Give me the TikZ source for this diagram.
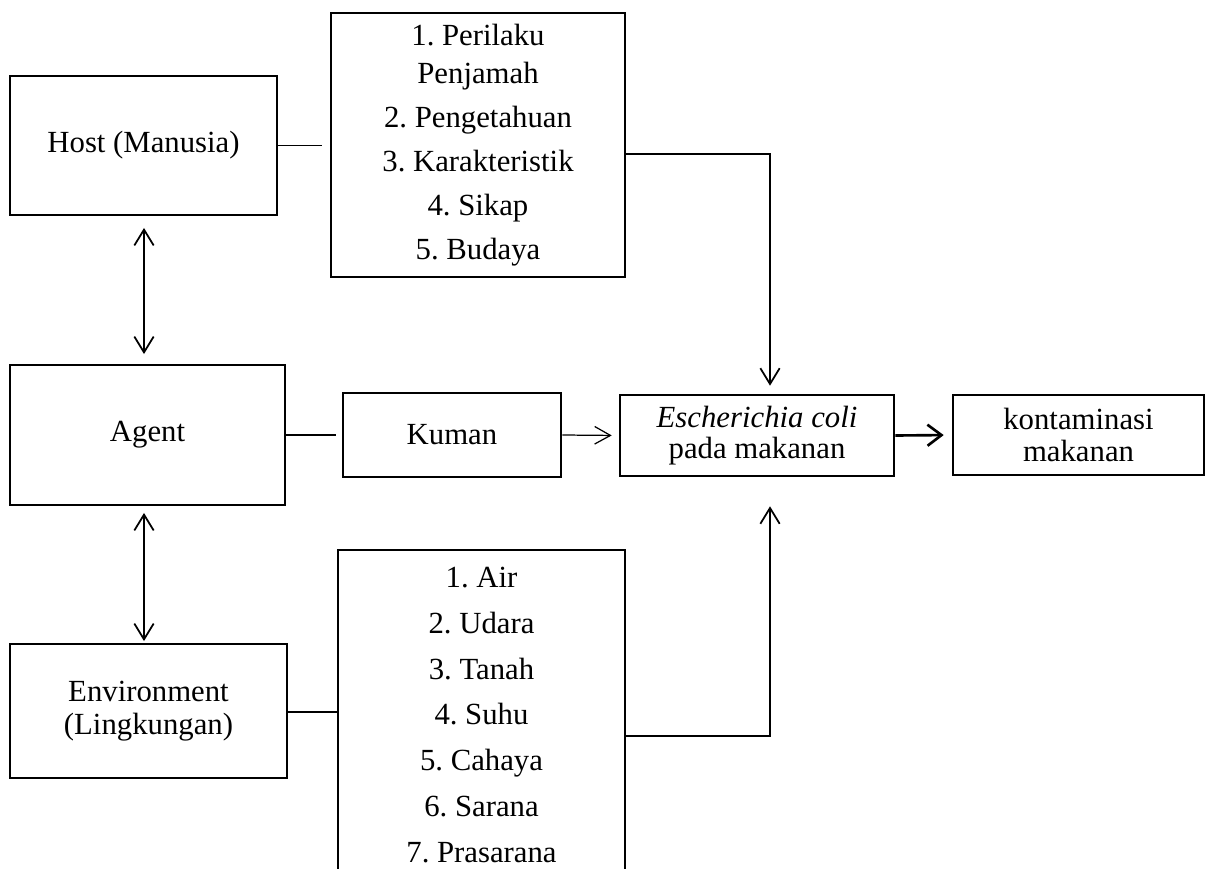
\documentclass[tikz,border=0pt]{standalone}
\usepackage{fontspec}
\setmainfont{Liberation Serif}
\usepackage{tikz}
\usetikzlibrary{arrows.meta}
\frenchspacing

\begin{document}
\begin{tikzpicture}[x=0.02cm, y=-0.02cm, font=\fontsize{17.5}{19}\selectfont]

    \useasboundingbox (0,0) rectangle (1209,868);

    % --- 1. Stile ---
    \tikzset{kasten/.style={draw, line width=1.1pt, inner sep=2pt, align=center},
             mittelkasten/.style={kasten, line width=1.5pt},
             liste/.style={kasten, line width=0.9pt, anchor=center},
             verbinder/.style={line width=1pt},
             pfeilspitze/.style={-{Straight Barb[length=9pt, width=11pt, line width=1pt]}},
             doppelpfeil/.style={verbinder, {Straight Barb[length=9pt, width=11pt, line width=1pt]}-{Straight Barb[length=9pt, width=11pt, line width=1pt]}}}

    % --- 2. Linke Spalte (Host, Agent, Environment) ---
    \node[kasten, minimum width=5.34cm, minimum height=2.78cm] (host) at (143.5,145.5) {Host (Manusia)};
    \node[kasten, minimum width=5.5cm, minimum height=2.8cm] (agent) at (147.5,435) {Agent};
    \node[kasten, minimum width=5.54cm, minimum height=2.68cm] (env) at (148.5,711) {Environment\\(Lingkungan)};

    % --- 3. Listen ---
    \node[liste, minimum width=5.88cm, minimum height=5.28cm, font=\fontsize{17.5}{21.5}\selectfont] (list1) at (478,145)
        {1. Perilaku\\Penjamah\\[3.5pt] 2. Pengetahuan\\[3.5pt] 3. Karakteristik\\[3.5pt] 4. Sikap\\[3.5pt] 5. Budaya};
    \node[liste, minimum width=5.74cm, minimum height=6.6cm, font=\fontsize{17.5}{21.5}\selectfont] (list2) at (481.5,715)
        {1. Air\\[4.5pt] 2. Udara\\[4.5pt] 3. Tanah\\[4.5pt] 4. Suhu\\[4.5pt] 5. Cahaya\\[4.5pt] 6. Sarana\\[4.5pt] 7. Prasarana};

    % --- 4. Mittlere Reihe ---
    \node[mittelkasten, minimum width=4.36cm, minimum height=1.68cm] (kuman) at (452,435) {Kuman};
    \node[mittelkasten, minimum width=5.48cm, minimum height=1.62cm, font=\fontsize{17.5}{18}\selectfont] (ecoli) at (757,435.5) {\textit{Escherichia coli}\\pada makanan};
    \node[mittelkasten, minimum width=5.02cm, minimum height=1.6cm, font=\fontsize{17.5}{18}\selectfont] (konta) at (1078.5,435) {kontaminasi\\makanan};

    % --- 5. Hilfspunkte ---
    \coordinate (achse) at (144,0);
    \coordinate (k1) at (770,154);
    \coordinate (k2) at (770,736);

    % --- 6. Verbindungen ---
    \draw[doppelpfeil, shorten <=0.24cm, shorten >=0.2cm] (host.south -| achse) -- (agent.north -| achse);
    \draw[doppelpfeil, shorten <=0.14cm, shorten >=0.04cm] (agent.south -| achse) -- (env.north -| achse);
    \draw[verbinder, shorten >=0.16cm] (host.east) -- (list1.west |- host.east);
    \draw[verbinder, shorten >=0.12cm] (agent.east) -- (kuman.west);
    \draw[verbinder] (env.east |- 0,712) -- (list2.west |- 0,712);
    \draw[line width=0.7pt, -{Straight Barb[length=9pt, width=10pt, line width=0.7pt]}, shorten >=0.14cm] (kuman.east) -- (ecoli.west);
    \draw[line width=1.5pt, -{Straight Barb[length=8pt, width=12pt, line width=1.5pt]}, shorten >=0.16cm] (ecoli.east) -- (konta.west);
    \draw[verbinder, pfeilspitze, shorten >=0.16cm] (list1.east |- k1) -- (k1) -- (ecoli.north -| k1);
    \draw[verbinder, pfeilspitze, shorten >=0.58cm] (list2.east |- k2) -- (k2) -- (ecoli.south -| k2);

\end{tikzpicture}
\end{document}
